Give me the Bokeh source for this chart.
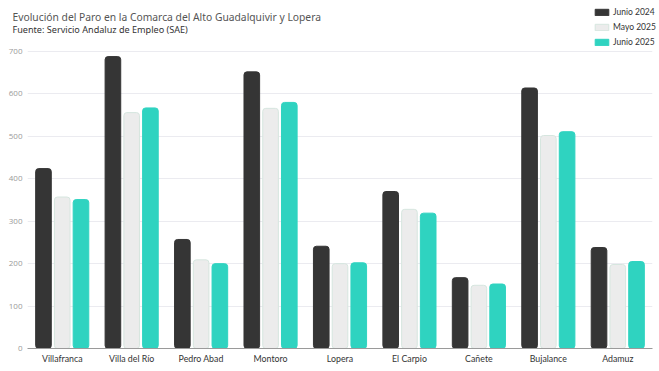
from bokeh.plotting import figure
from bokeh.layouts import column, row
from bokeh.models import FactorRange, Range1d, Legend, LegendItem, Label, ColumnDataSource, FixedTicker
from bokeh.transform import dodge
from bokeh.embed import file_html
from bokeh.resources import INLINE

municipios = ["Villafranca", "Villa del Río", "Pedro Abad", "Montoro", "Lopera",
              "El Carpio", "Cañete", "Bujalance", "Adamuz"]
junio_2024 = [424, 688, 257, 652, 241, 370, 167, 614, 238]
mayo_2025 = [357, 556, 209, 566, 200, 328, 149, 502, 198]
junio_2025 = [351, 567, 200, 580, 202, 319, 152, 511, 205]
series_names = ["Junio 2024", "Mayo 2025", "Junio 2025"]
y_ticks = [0, 100, 200, 300, 400, 500, 600, 700]
title_text = "Evolución del Paro en la Comarca del Alto Guadalquivir y Lopera"
subtitle_text = "Fuente: Servicio Andaluz de Empleo (SAE)"

colors = ["#353535", "#ececec", "#2fd3c0"]
outlines = ["#353535", "#d6e6df", "#2fd3c0"]
offsets = [-0.27, 0.0, 0.27]
columns_ = ["j24", "m25", "j25"]

source = ColumnDataSource(data=dict(
    municipio=municipios,
    j24=junio_2024,
    m25=mayo_2025,
    j25=junio_2025,
))

x_range = FactorRange(factors=municipios, range_padding=0)

# ---------------- header (titles + legend) ----------------
HEAD_H = 46
head = figure(width=659, height=HEAD_H, x_range=x_range, y_range=Range1d(1000, 2000),
              x_axis_type=None, y_axis_type=None, toolbar_location=None,
              output_backend="svg", min_border=0)
head.outline_line_color = None
head.grid.visible = False
head.background_fill_color = "white"
head.border_fill_color = "white"

head.add_layout(Label(x=12, y=HEAD_H - 16, x_units="screen", y_units="screen", text=title_text,
                      text_font="Noto Sans", text_font_size="10.3px", text_color="#555555",
                      text_baseline="middle"))
head.add_layout(Label(x=12, y=HEAD_H - 29, x_units="screen", y_units="screen", text=subtitle_text,
                      text_font="Noto Sans", text_font_size="9.1px", text_color="#333333",
                      text_baseline="middle"))

# legend keys: same series, drawn below the header's visible range
key_renderers = []
for col, c, lc, off in zip(columns_, colors, outlines, offsets):
    key_renderers.append(head.vbar(x=dodge("municipio", off, range=x_range), top=col,
                                   width=0.225, source=source, fill_color=c, line_color=lc,
                                   line_width=1, border_radius=2))

legend = Legend(
    items=[LegendItem(label=n, renderers=[r]) for n, r in zip(series_names, key_renderers)],
    location=(593, -1),
    orientation="vertical",
    label_text_font="Lato",
    label_text_font_size="8.5px",
    label_text_color="#333333",
    glyph_width=17, glyph_height=8,
    label_height=11,
    spacing=4, padding=0, margin=0,
    label_standoff=3,
    border_line_color=None,
    background_fill_alpha=0,
)
head.add_layout(legend, "center")

# ---------------- main chart ----------------
FRAME_H = 302
p = figure(
    frame_width=625, frame_height=FRAME_H,
    x_range=x_range,
    y_range=Range1d(0, 700 * FRAME_H / 297),
    output_backend="svg", toolbar_location=None,
    min_border_left=27, min_border_right=7, min_border_top=0, min_border_bottom=23,
)
p.outline_line_color = None
p.background_fill_color = "white"
p.border_fill_color = "white"

for col, c, lc, off in zip(columns_, colors, outlines, offsets):
    p.vbar(x=dodge("municipio", off, range=x_range), top=col, width=0.225,
           source=source, fill_color=c, line_color=lc, line_width=1,
           border_radius=3)

p.yaxis.ticker = FixedTicker(ticks=y_ticks)
p.yaxis.axis_line_color = None
p.yaxis.major_tick_line_color = None
p.yaxis.minor_tick_line_color = None
p.yaxis.major_tick_out = 0
p.yaxis.major_tick_in = 0
p.yaxis.minor_tick_out = 0
p.yaxis.major_label_text_font = "Open Sans"
p.yaxis.major_label_text_font_size = "8px"
p.yaxis.major_label_text_color = "#9a9a9a"
p.yaxis.major_label_standoff = 5

p.xaxis.axis_line_color = "#9a9a9a"
p.xaxis.major_tick_line_color = None
p.xaxis.major_tick_out = 0
p.xaxis.major_tick_in = 0
p.xaxis.major_label_text_font = "Lato"
p.xaxis.major_label_text_font_size = "8.8px"
p.xaxis.major_label_text_color = "#333333"
p.xaxis.major_label_standoff = 4

p.xgrid.grid_line_color = None
p.ygrid.grid_line_color = "#ebebf0"
p.ygrid.ticker = FixedTicker(ticks=y_ticks)

layout = column(row(head), p, spacing=0)
open("out.html", "w").write(file_html(layout, INLINE))
